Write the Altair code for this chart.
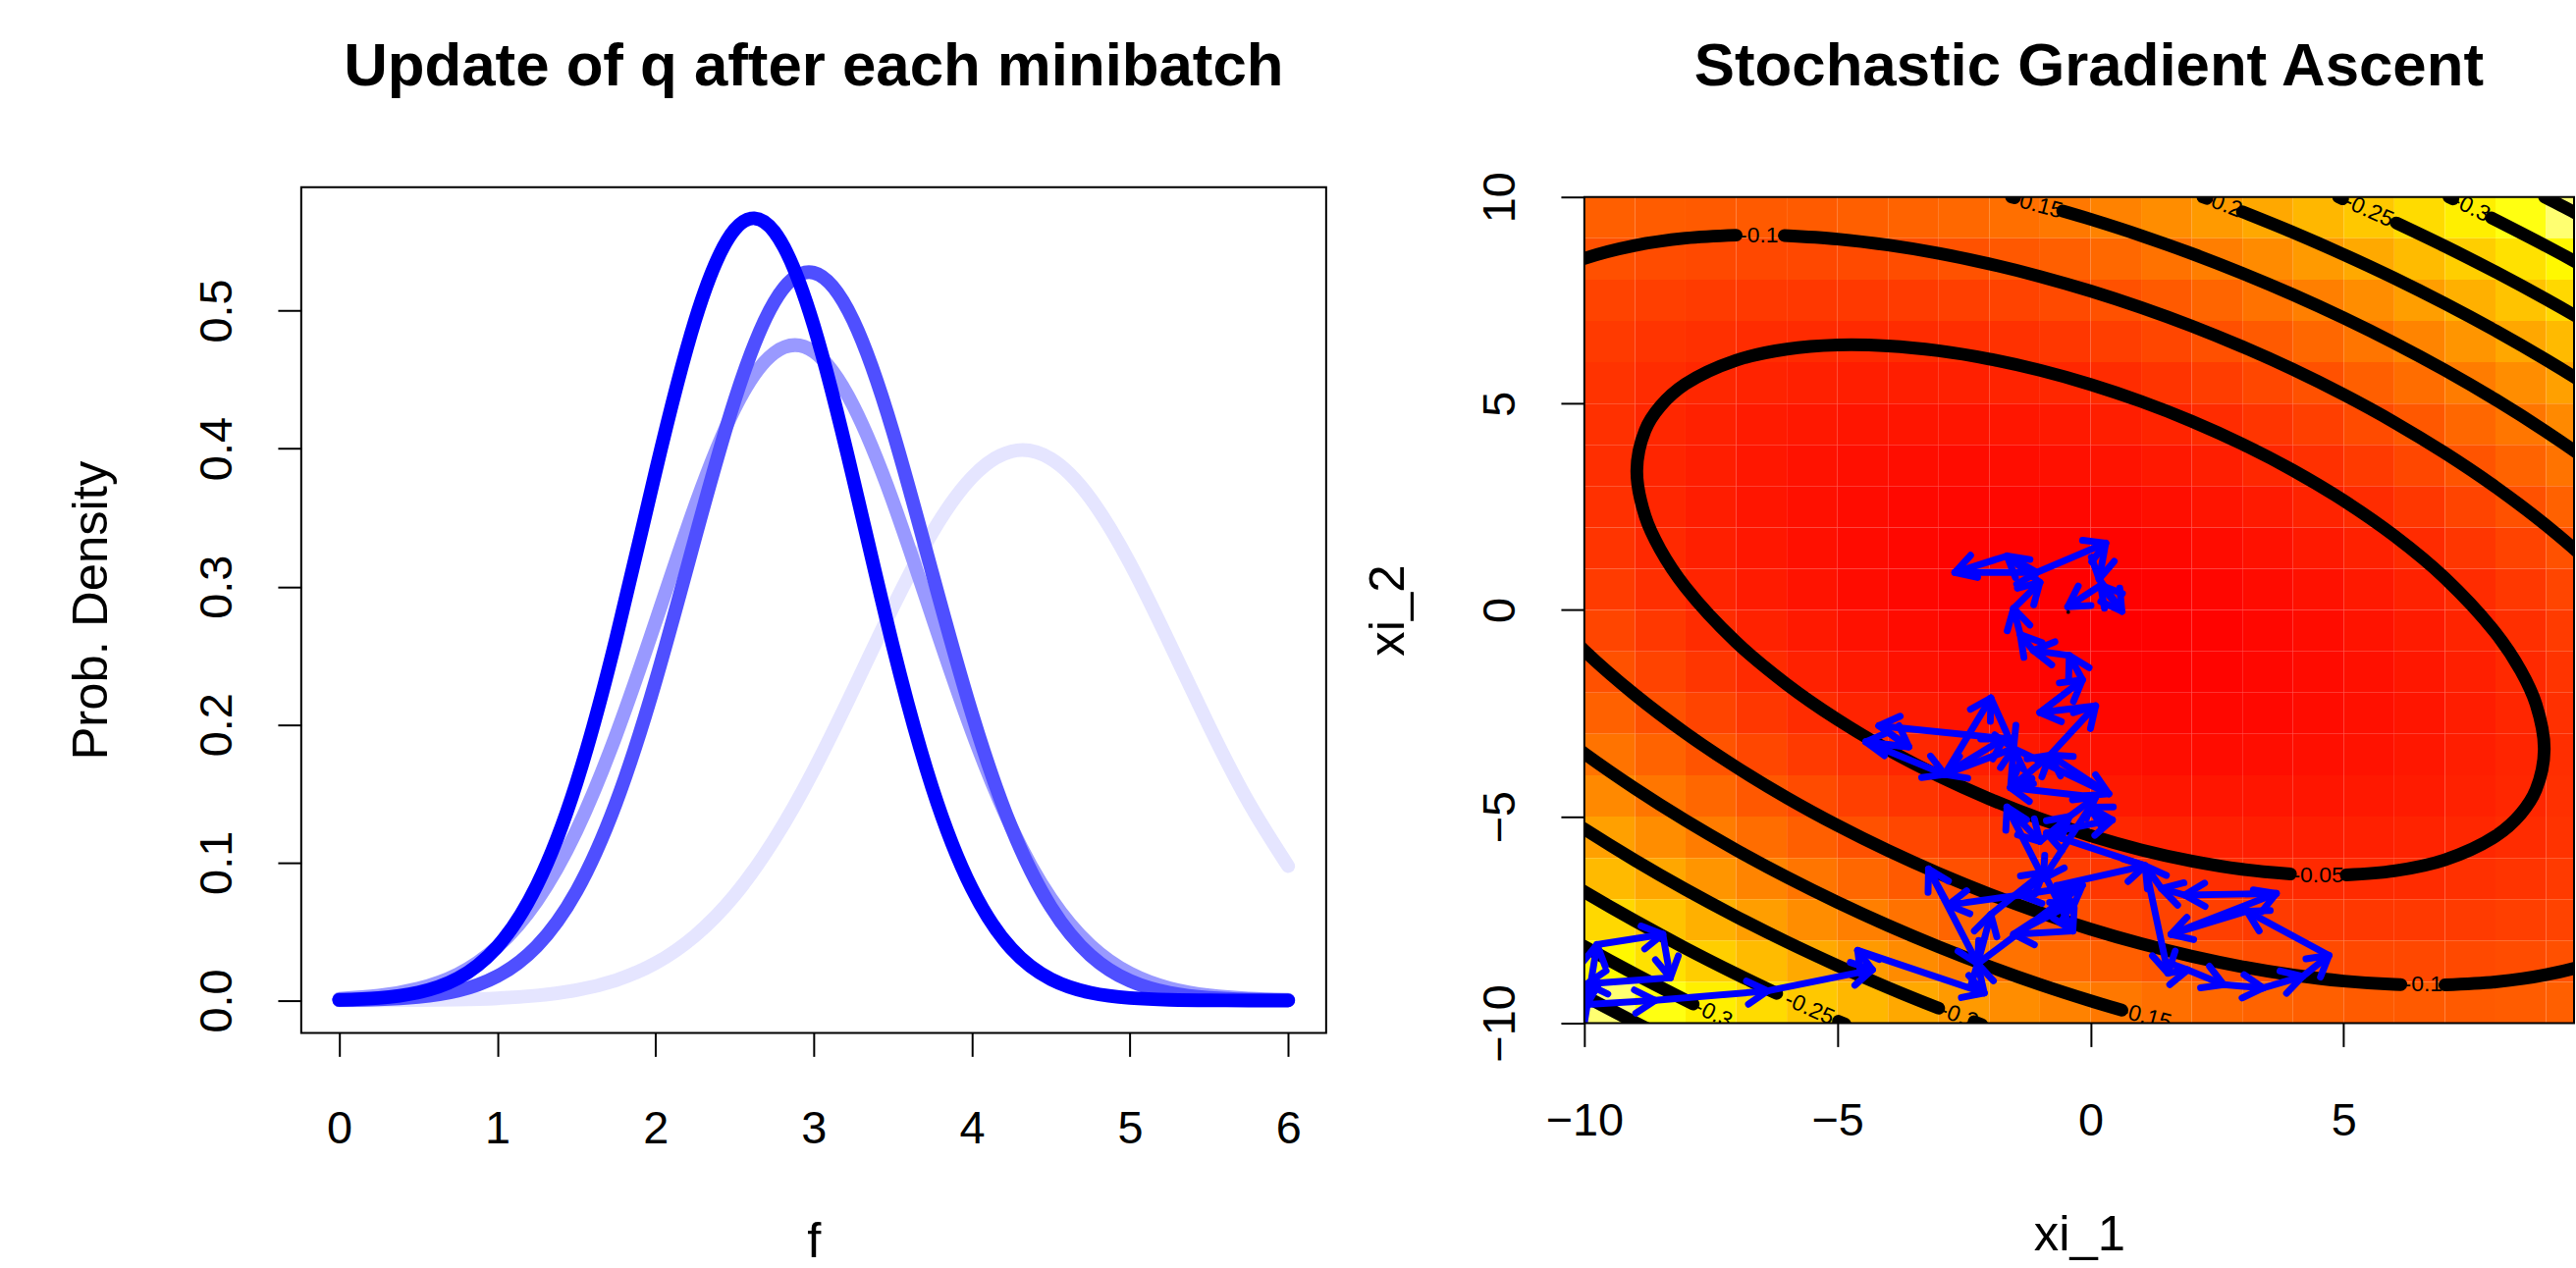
import altair as alt
import pandas as pd

FONT = "Liberation Sans"

# ---------------- left panel: q after each minibatch ----------------
f_grid = [0.0, 0.25, 0.5, 0.75, 1.0, 1.25, 1.5, 1.75, 2.0, 2.25, 2.5, 2.75, 3.0,
          3.25, 3.5, 3.75, 4.0, 4.25, 4.5, 4.75, 5.0, 5.25, 5.5, 5.75, 6.0]
q_step1 = [0.0000, 0.0001, 0.0003, 0.0007, 0.0016, 0.0036, 0.0075, 0.0147, 0.0270, 0.0469,
           0.0762, 0.1165, 0.1670, 0.2251, 0.2849, 0.3392, 0.3791, 0.3980, 0.3926, 0.3639,
           0.3168, 0.2590, 0.1989, 0.1436, 0.0974]
q_step2 = [0.0013, 0.0035, 0.0086, 0.0190, 0.0389, 0.0722, 0.1230, 0.1922, 0.2743, 0.3586,
           0.4289, 0.4693, 0.4703, 0.4311, 0.3620, 0.2779, 0.1952, 0.1256, 0.0740, 0.0399,
           0.0197, 0.0089, 0.0037, 0.0014, 0.0005]
q_step3 = [0.0002, 0.0008, 0.0025, 0.0070, 0.0176, 0.0394, 0.0792, 0.1431, 0.2313, 0.3350,
           0.4349, 0.5061, 0.5275, 0.4929, 0.4127, 0.3097, 0.2083, 0.1255, 0.0678, 0.0327,
           0.0142, 0.0055, 0.0019, 0.0006, 0.0002]
q_step4 = [0.0005, 0.0018, 0.0058, 0.0160, 0.0390, 0.0835, 0.1576, 0.2620, 0.3831, 0.4929,
           0.5587, 0.5574, 0.4893, 0.3782, 0.2573, 0.1541, 0.0813, 0.0376, 0.0154, 0.0056,
           0.0018, 0.0005, 0.0001, 0.0000, 0.0000]
q_colors = ["#E5E5FF", "#9999FF", "#4F4FFF", "#0000FF"]

# ---------------- right panel: objective surface ----------------
cell_x = [-9.5, -8.5, -7.5, -6.5, -5.5, -4.5, -3.5, -2.5, -1.5, -0.5,
          0.5, 1.5, 2.5, 3.5, 4.5, 5.5, 6.5, 7.5, 8.5, 9.5]
cell_y = [9.5, 8.5, 7.5, 6.5, 5.5, 4.5, 3.5, 2.5, 1.5, 0.5,
          -0.5, -1.5, -2.5, -3.5, -4.5, -5.5, -6.5, -7.5, -8.5, -9.5]
elbo_grid = [
    [-0.115, -0.112, -0.110, -0.110, -0.111, -0.115, -0.120, -0.127, -0.135, -0.146, -0.158, -0.171, -0.187, -0.204, -0.223, -0.243, -0.266, -0.290, -0.315, -0.343],
    [-0.097, -0.092, -0.089, -0.088, -0.088, -0.090, -0.094, -0.100, -0.107, -0.116, -0.127, -0.139, -0.153, -0.169, -0.187, -0.206, -0.227, -0.250, -0.274, -0.301],
    [-0.082, -0.076, -0.072, -0.069, -0.068, -0.069, -0.072, -0.076, -0.082, -0.090, -0.099, -0.110, -0.123, -0.138, -0.154, -0.172, -0.192, -0.214, -0.237, -0.262],
    [-0.071, -0.063, -0.058, -0.054, -0.052, -0.051, -0.053, -0.056, -0.060, -0.067, -0.075, -0.085, -0.097, -0.110, -0.125, -0.142, -0.160, -0.181, -0.203, -0.226],
    [-0.062, -0.054, -0.047, -0.042, -0.039, -0.037, -0.037, -0.039, -0.042, -0.047, -0.054, -0.063, -0.074, -0.086, -0.099, -0.115, -0.132, -0.151, -0.172, -0.194],
    [-0.058, -0.048, -0.040, -0.033, -0.029, -0.026, -0.025, -0.025, -0.027, -0.031, -0.037, -0.044, -0.054, -0.064, -0.077, -0.091, -0.107, -0.125, -0.144, -0.166],
    [-0.056, -0.045, -0.036, -0.028, -0.022, -0.018, -0.016, -0.015, -0.016, -0.019, -0.023, -0.029, -0.037, -0.047, -0.058, -0.071, -0.086, -0.102, -0.120, -0.140],
    [-0.058, -0.046, -0.035, -0.026, -0.019, -0.014, -0.010, -0.008, -0.008, -0.009, -0.012, -0.017, -0.024, -0.032, -0.042, -0.054, -0.067, -0.083, -0.099, -0.118],
    [-0.063, -0.050, -0.038, -0.028, -0.019, -0.013, -0.008, -0.005, -0.003, -0.003, -0.005, -0.009, -0.014, -0.021, -0.030, -0.040, -0.052, -0.066, -0.082, -0.099],
    [-0.072, -0.057, -0.044, -0.033, -0.023, -0.015, -0.009, -0.004, -0.001, -0.000, -0.001, -0.003, -0.007, -0.013, -0.021, -0.030, -0.041, -0.054, -0.068, -0.084],
    [-0.084, -0.068, -0.054, -0.041, -0.030, -0.021, -0.013, -0.007, -0.003, -0.001, -0.000, -0.001, -0.004, -0.009, -0.015, -0.023, -0.033, -0.044, -0.057, -0.072],
    [-0.099, -0.082, -0.066, -0.052, -0.040, -0.030, -0.021, -0.014, -0.009, -0.005, -0.003, -0.003, -0.005, -0.008, -0.013, -0.019, -0.028, -0.038, -0.050, -0.063],
    [-0.118, -0.099, -0.083, -0.067, -0.054, -0.042, -0.032, -0.024, -0.017, -0.012, -0.009, -0.008, -0.008, -0.010, -0.014, -0.019, -0.026, -0.035, -0.046, -0.058],
    [-0.140, -0.120, -0.102, -0.086, -0.071, -0.058, -0.047, -0.037, -0.029, -0.023, -0.019, -0.016, -0.015, -0.016, -0.018, -0.022, -0.028, -0.036, -0.045, -0.056],
    [-0.166, -0.144, -0.125, -0.107, -0.091, -0.077, -0.064, -0.054, -0.044, -0.037, -0.031, -0.027, -0.025, -0.025, -0.026, -0.029, -0.033, -0.040, -0.048, -0.058],
    [-0.194, -0.172, -0.151, -0.132, -0.115, -0.099, -0.086, -0.074, -0.063, -0.054, -0.047, -0.042, -0.039, -0.037, -0.037, -0.039, -0.042, -0.047, -0.054, -0.062],
    [-0.226, -0.203, -0.181, -0.160, -0.142, -0.125, -0.110, -0.097, -0.085, -0.075, -0.067, -0.060, -0.056, -0.053, -0.051, -0.052, -0.054, -0.058, -0.063, -0.071],
    [-0.262, -0.237, -0.214, -0.192, -0.172, -0.154, -0.138, -0.123, -0.110, -0.099, -0.090, -0.082, -0.076, -0.072, -0.069, -0.068, -0.069, -0.072, -0.076, -0.082],
    [-0.301, -0.274, -0.250, -0.227, -0.206, -0.187, -0.169, -0.153, -0.139, -0.127, -0.116, -0.107, -0.100, -0.094, -0.090, -0.088, -0.088, -0.089, -0.092, -0.097],
    [-0.343, -0.315, -0.290, -0.266, -0.243, -0.223, -0.204, -0.187, -0.171, -0.158, -0.146, -0.135, -0.127, -0.120, -0.115, -0.111, -0.110, -0.110, -0.112, -0.115],
]
heat_domain = [-0.38, -0.31, 0.0]
heat_range = ["#FFFFF0", "#FFFF00", "#FF0000"]

# contour line pieces (level, x points, y points), broken where labels sit
contour_pieces = [
    ("-0.05", [5.05, 6, 7, 8, 8.5, 8.8, 8.963, 8.8, 8.5, 8, 7, 6, 5, 4, 3, 2, 1, 0, -1, -2, -3, -4, -5, -6, -7, -8, -8.5, -8.8,
               -8.963, -8.8, -8.5, -8, -7, -6, -5, -4, -3, -2, -1, 0, 1, 2, 3, 3.95],
              [-6.413, -6.316, -6.047, -5.474, -4.932, -4.349, -3.375, -2.277, -1.468, -0.550, 0.775, 1.798, 2.650, 3.382, 4.017,
               4.571, 5.051, 5.462, 5.805, 6.077, 6.277, 6.394, 6.416, 6.316, 6.047, 5.474, 4.932, 4.349, 3.375, 2.277, 1.468,
               0.550, -0.775, -1.798, -2.650, -3.382, -4.017, -4.571, -5.051, -5.462, -5.805, -6.077, -6.277, -6.390]),
    ("-0.1", [-11, -10, -9, -8, -7], [7.98, 8.511, 8.828, 9.003, 9.075]),
    ("-0.1", [-6.05, -5, -4, -3, -2, -1, 0, 1, 2, 3, 4, 5, 6, 7, 8, 9, 10, 11],
             [9.066, 8.981, 8.836, 8.635, 8.381, 8.077, 7.724, 7.323, 6.875, 6.375, 5.824, 5.215, 4.545, 3.803, 2.979, 2.050, 0.981, -0.303]),
    ("-0.1", [-11, -10, -9, -8, -7, -6, -5, -4, -3, -2, -1, 0, 1, 2, 3, 4, 5, 6, 6.13],
             [0.303, -0.981, -2.050, -2.979, -3.803, -4.545, -5.215, -5.824, -6.375, -6.875, -7.323, -7.724, -8.077, -8.381,
              -8.635, -8.836, -8.981, -9.063, -9.066]),
    ("-0.1", [7, 8, 9, 10, 11], [-9.075, -9.003, -8.828, -8.511, -7.98]),
    ("-0.15", [-1.56, -1.5], [10.0, 9.981]),
    ("-0.15", [-0.55, 0, 1, 2, 3, 4, 5, 6, 7, 8, 9, 10, 11],
              [9.66, 9.460, 9.065, 8.629, 8.152, 7.635, 7.073, 6.466, 5.808, 5.095, 4.319, 3.471, 2.535]),
    ("-0.15", [-11, -10, -9, -8, -7, -6, -5, -4, -3, -2, -1, 0, 0.62],
              [-2.535, -3.471, -4.319, -5.095, -5.808, -6.466, -7.073, -7.635, -8.152, -8.629, -9.065, -9.460, -9.686]),
    ("-0.2", [2.22, 2.3], [10.0, 9.965]),
    ("-0.2", [3, 4, 5, 6, 7, 8, 9, 10, 11], [9.640, 9.142, 8.607, 8.035, 7.420, 6.763, 6.058, 5.301, 4.485]),
    ("-0.2", [-11, -10, -9, -8, -7, -6, -5, -4, -3], [-4.485, -5.301, -6.058, -6.763, -7.420, -8.035, -8.607, -9.142, -9.640]),
    ("-0.2", [-2.3, -2.15], [-9.965, -10.035]),
    ("-0.25", [4.9, 4.98], [10.0, 9.955]),
    ("-0.25", [6.04, 7, 8, 9, 10, 11], [9.372, 8.808, 8.186, 7.524, 6.819, 6.069]),
    ("-0.25", [-11, -10, -9, -8, -7, -6.2], [-6.069, -6.819, -7.524, -8.186, -8.808, -9.280]),
    ("-0.25", [-4.98, -4.85], [-9.955, -10.025]),
    ("-0.3", [7.08, 7.16], [10.0, 9.953]),
    ("-0.3", [7.92, 9, 10, 11], [9.496, 8.814, 8.145, 7.438]),
    ("-0.3", [-11, -10, -9, -7.85], [-7.438, -8.145, -8.814, -9.539]),
    ("-0.35", [8.97, 9.3, 10, 11], [10.0, 9.79, 9.338, 8.66]),
    ("-0.35", [-11, -10, -9, -8.5], [-8.66, -9.338, -9.981, -10.291]),
]
contour_label_text = ["-0.05", "-0.1", "-0.1", "-0.15", "-0.15", "-0.2", "-0.2", "-0.25", "-0.25", "-0.3", "-0.3"]
contour_label_x = [4.5, -6.55, 6.57, -1.05, 1.1, 2.62, -2.6, 5.5, -5.55, 7.52, -7.45]
contour_label_y = [-6.42, 9.07, -9.07, 9.8, -9.85, 9.82, -9.83, 9.67, -9.65, 9.74, -9.78]
contour_label_angle = [0, 0, 0, 15, 15, 21, 21, 24, 24, 26, 26]

# stochastic gradient ascent path
path_x = [-10.0, -9.75, -8.45, -8.3, -9.95, -9.95, -8.6, -6.38, -4.31, -4.6, -2.1, -2.23, -0.16, -1.39,
          -2.81, -3.2, -2.23, -1.97, -0.93, -0.35, -1.52, -0.35, -0.67, 1.08, 1.53, 1.92, 2.63, 3.41,
          4.19, 4.71, 3.09, 1.59, 3.67, 1.86, 1.40, 1.08, -0.87, 0.43, -0.01, -0.93, -1.65, -1.0,
          -0.42, 0.1, -1.58, -1.52, -2.88, -1.71, -4.18, -3.59, -4.44, -2.88, -1.97, -1.52, 0.36,
          -0.8, -1.58, -0.8, 0.1, -1.0, -0.16, -0.42, -1.13, -1.39, -1.52, -1.0, -1.65, -2.68,
          -1.06, 0.3, 0.17, 0.62, 0.2, -0.45]
path_y = [-10.0, -8.1, -7.85, -8.9, -9.05, -9.55, -9.45, -9.22, -8.71, -8.24, -9.27, -8.56, -6.66, -6.9,
          -7.14, -6.27, -8.56, -7.37, -6.35, -7.77, -7.85, -7.1, -6.67, -6.19, -8.79, -8.71, -9.07, -9.15,
          -8.87, -8.36, -7.29, -7.85, -6.86, -6.9, -6.74, -6.19, -5.4, -5.08, -4.77, -6.5, -4.77, -5.6,
          -5.0, -4.53, -4.3, -3.35, -3.98, -3.11, -2.8, -3.31, -3.19, -3.98, -2.13, -3.35, -4.45,
          -3.51, -4.3, -3.51, -2.32, -2.48, -1.69, -1.1, -0.98, -0.59, 0.04, 0.67, 1.31, 0.91,
          0.91, 1.62, 0.75, -0.03, 0.6, 0.08]
optimum_x = [-0.44]
optimum_y = [-0.05]

# ---------------- layout constants ----------------
LW, LH = 1048, 865
RW = 1012
PX_PER_X = 51.76
PX_PER_Y = 42.25
TOP_GAP = 10                      # right image starts 10 px below the left box top
RH = int(round(20 * PX_PER_Y)) + TOP_GAP
X_RIGHT_MAX = -10 + RW / PX_PER_X
Y_RIGHT_TOP = 10 + TOP_GAP / PX_PER_Y

axis_style = dict(tickSize=24, tickWidth=2, tickColor="black", domain=False, grid=False,
                  labelFont=FONT, labelFontSize=47, labelColor="black", labelFlush=False,
                  labelOverlap=False, titleFont=FONT, titleFontSize=51, titleFontWeight="normal",
                  titleColor="black")


def x_axis(values, title, pad, title_y):
    return alt.Axis(values=values, format="d", title=title, labelPadding=pad, titleY=title_y,
                    titleBaseline="alphabetic", **axis_style)


def y_axis(values, fmt, title, title_x, title_y):
    return alt.Axis(values=values, format=fmt, title=title, labelAngle=270, labelAlign="center",
                    labelBaseline="alphabetic", labelPadding=48, titleAngle=270, titleX=title_x,
                    titleY=title_y, titleAlign="center", titleBaseline="alphabetic", **axis_style)


# ---------------- left chart ----------------
lx_scale = alt.Scale(domain=[-0.24, 6.24], nice=False, zero=False)
ly_scale = alt.Scale(domain=[-0.0235, 0.5895], nice=False, zero=False)
lx_axis = x_axis([0, 1, 2, 3, 4, 5, 6], "f", 51, 229)
ly_axis = y_axis([0, 0.1, 0.2, 0.3, 0.4, 0.5], ".1f", "Prob. Density", -199, LH / 2)

left_layers = []
for vals, col in zip([q_step1, q_step2, q_step3, q_step4], q_colors):
    df = pd.DataFrame({"f": f_grid, "density": vals})
    left_layers.append(
        alt.Chart(df).mark_line(color=col, strokeWidth=14, strokeCap="round", strokeJoin="round",
                                interpolate="natural").encode(
            x=alt.X("f:Q", scale=lx_scale, axis=lx_axis),
            y=alt.Y("density:Q", scale=ly_scale, axis=ly_axis),
        )
    )
left = alt.layer(*left_layers).properties(
    width=LW, height=LH,
    title=alt.TitleParams("Update of q after each minibatch", font=FONT, fontSize=62, fontWeight="bold",
                          color="black", anchor="middle", frame="group", baseline="alphabetic", offset=42),
)

# ---------------- right chart ----------------
rx_scale = alt.Scale(domain=[-10, X_RIGHT_MAX], nice=False, zero=False)
ry_scale = alt.Scale(domain=[-10, Y_RIGHT_TOP], nice=False, zero=False)
rx_axis = x_axis([-10, -5, 0, 5], "xi_1", 53, 232)
ry_axis = y_axis([-10, -5, 0, 5, 10], "d", "xi_2", -185, Y_RIGHT_TOP * PX_PER_Y)


def RX(field):
    return alt.X(field, scale=rx_scale, axis=rx_axis)


def RY(field):
    return alt.Y(field, scale=ry_scale, axis=ry_axis)


heat_rows = []
for yc, row in zip(cell_y, elbo_grid):
    for xc, v in zip(cell_x, row):
        heat_rows.append({"x0": xc - 0.5, "x1": xc + 0.5, "y0": yc - 0.5, "y1": yc + 0.5, "elbo": v})
heat_df = pd.DataFrame(heat_rows)

heat = alt.Chart(heat_df).mark_rect(clip=True).encode(
    x=RX("x0:Q"), x2="x1:Q", y=RY("y0:Q"), y2="y1:Q",
    color=alt.Color("elbo:Q", scale=alt.Scale(domain=heat_domain, range=heat_range, interpolate="rgb"),
                    legend=None),
)

cont_rows = []
for k, (lev, xs, ys) in enumerate(contour_pieces):
    for i, (xv, yv) in enumerate(zip(xs, ys)):
        cont_rows.append({"piece": k, "level": lev, "i": i, "x": xv, "y": yv})
cont_df = pd.DataFrame(cont_rows)

contours = alt.Chart(cont_df).mark_line(color="black", strokeWidth=13, strokeCap="round",
                                        strokeJoin="round", interpolate="catmull-rom", clip=True).encode(
    x=RX("x:Q"), y=RY("y:Q"), detail="piece:N", order="i:Q",
)

lab_df = pd.DataFrame({"text": contour_label_text, "x": contour_label_x, "y": contour_label_y,
                       "angle": contour_label_angle})
labels = alt.Chart(lab_df).mark_text(font=FONT, fontSize=23, color="black", align="center",
                                     baseline="middle", clip=True).encode(
    x=RX("x:Q"), y=RY("y:Q"), text="text:N", angle=alt.Angle("angle:Q", scale=None),
)

seg_df = pd.DataFrame({"xs": path_x[:-1], "ys": path_y[:-1], "xe": path_x[1:], "ye": path_y[1:]})
segments = alt.Chart(seg_df).mark_rule(color="#0000FF", strokeWidth=7, strokeCap="round", clip=True).encode(
    x=RX("xs:Q"), y=RY("ys:Q"), x2="xe:Q", y2="ye:Q",
)

heads = alt.Chart(seg_df).transform_calculate(
    ang=f"(atan2(-(datum.ye - datum.ys) * {PX_PER_Y}, (datum.xe - datum.xs) * {PX_PER_X}) * 180 / PI + 360) % 360"
).mark_point(shape="M-1,-0.577L0,0L-1,0.577", filled=False, size=1700, strokeWidth=7, color="#0000FF",
             opacity=1, strokeCap="round", strokeJoin="round", clip=True).encode(
    x=RX("xe:Q"), y=RY("ye:Q"), angle=alt.Angle("ang:Q", scale=None),
)

opt_df = pd.DataFrame({"x": optimum_x, "y": optimum_y})
opt = alt.Chart(opt_df).mark_point(filled=True, color="black", size=14, opacity=1, clip=True).encode(
    x=RX("x:Q"), y=RY("y:Q"))

# white strip above the image (its top sits 10 px lower than the left box) and the image frame
strip_df = pd.DataFrame({"sx0": [-10.0], "sx1": [X_RIGHT_MAX], "sy0": [10.0], "sy1": [Y_RIGHT_TOP]})
strip = alt.Chart(strip_df).mark_rect(fill="white", stroke="white", strokeWidth=1, opacity=1).encode(
    x=RX("sx0:Q"), x2="sx1:Q", y=RY("sy0:Q"), y2="sy1:Q")
frame_df = pd.DataFrame({"fx0": [-10.0], "fx1": [X_RIGHT_MAX], "fy0": [-10.0], "fy1": [10.0]})
frame = alt.Chart(frame_df).mark_rect(fillOpacity=0, stroke="black", strokeWidth=2).encode(
    x=RX("fx0:Q"), x2="fx1:Q", y=RY("fy0:Q"), y2="fy1:Q")

right = alt.layer(heat, contours, labels, segments, heads, opt, strip, frame).properties(
    width=RW, height=RH,
    view=alt.ViewBackground(stroke="transparent"),
    title=alt.TitleParams("Stochastic Gradient Ascent", font=FONT, fontSize=62, fontWeight="bold",
                          color="black", anchor="middle", frame="group", baseline="alphabetic",
                          offset=26, dx=10),
)

chart = alt.hconcat(left, right, spacing=36).properties(
    padding={"left": 67, "top": 33, "right": 0, "bottom": 0},
    background="white",
).configure_view(stroke="black", strokeWidth=2)

chart.save("out.html", embed_options={"renderer": "svg", "actions": False})
